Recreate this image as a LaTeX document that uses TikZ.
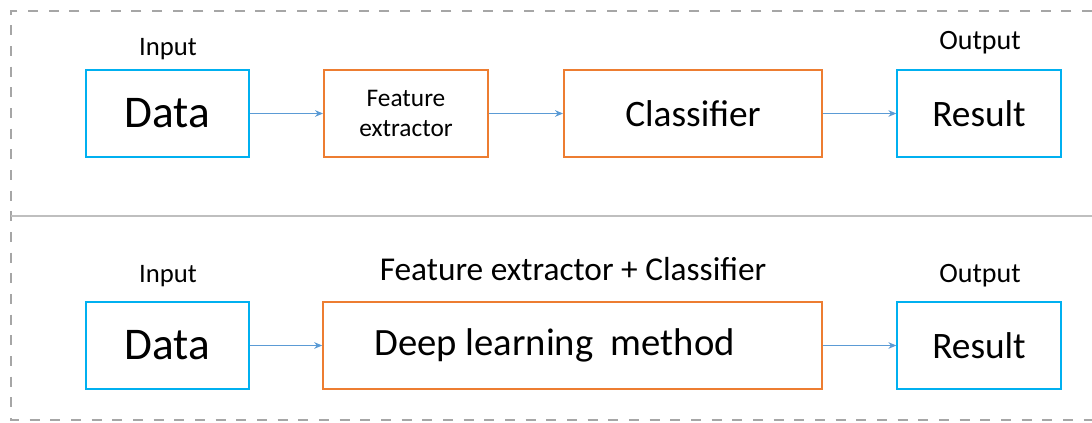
\documentclass[tikz,border=0pt]{standalone}
\usepackage{fontspec}
\setmainfont{Carlito}
\usetikzlibrary{arrows.meta}
\definecolor{boxblue}{HTML}{00B0F0}
\definecolor{boxorange}{HTML}{ED7D31}
\definecolor{linkblue}{HTML}{5B9BD5}
\definecolor{framegray}{HTML}{A6A6A6}
\definecolor{sepgray}{HTML}{BFBFBF}
\newcommand{\fsz}[1]{\fontsize{#1}{1.2\dimexpr#1pt\relax}\selectfont}

\begin{document}
\begin{tikzpicture}[x=0.75pt,y=-0.75pt,>={Stealth[length=6pt,width=5pt]},
  iobox/.style={draw=boxblue,line width=1.5pt,minimum width=122.5pt,minimum height=65pt,inner sep=0pt},
  procbox/.style={draw=boxorange,line width=1.5pt,minimum height=65pt,inner sep=0pt},
  link/.style={->,draw=linkblue,fill=linkblue,line width=0.75pt},
  lbl/.style={anchor=base,inner sep=0pt,font=\fsz{20}}]
  \useasboundingbox (0,0) rectangle (1092,422);
  % dashed frame (open on the right) and separator
  \draw[framegray,line width=2pt,dash pattern=on 7.5pt off 8pt]
    (1092,11) -- (11,11) -- (11,420) -- (1092,420);
  \draw[sepgray,line width=1.2pt] (11,216) -- (1092,216);
  % classic pipeline
  \node[iobox,font=\fsz{34}] (data1) at (167.5,113.5) {Data};
  \node[procbox,minimum width=123pt,align=center,font=\fsz{19}] (feat) at (406,113.5) {Feature\\extractor};
  \node[procbox,minimum width=193.5pt,font=\fsz{28}] (cls) at (693,113.5) {Classifier};
  \node[iobox,font=\fsz{28}] (res1) at (979,113.5) {Result};
  % deep learning pipeline
  \node[iobox,font=\fsz{34}] (data2) at (167.5,345.5) {Data};
  \node[procbox,minimum width=374pt,font=\fsz{29}] (dl) at (572.5,345.5) {Deep learning\ \ method\kern27pt};
  \node[iobox,font=\fsz{28}] (res2) at (979,345.5) {Result};
  % labels
  \node[lbl] (in1) at (168,55) {Input};
  \node[lbl,font=\fsz{21}] (out1) at (980,49) {Output};
  \node[lbl] (in2) at (168,282) {Input};
  \node[lbl,font=\fsz{21}] (out2) at (980,282) {Output};
  \node[lbl,font=\fsz{25}] (fc) at (573,280) {Feature extractor + Classifier};
  % links
  \foreach \a/\b in {data1/feat,feat/cls,cls/res1,data2/dl,dl/res2}
    \draw[link] (\a) -- (\b);
\end{tikzpicture}
\end{document}
